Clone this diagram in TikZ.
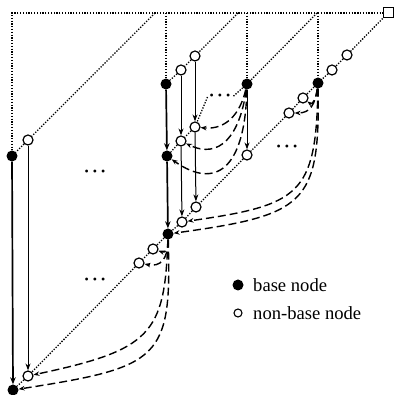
\documentclass[tikz,border=0pt]{standalone}
\usepackage{fontspec}
\setmainfont{Liberation Serif}
\usetikzlibrary{arrows.meta}
\tikzset{
 base/.style={circle,fill=black,inner sep=0pt,minimum size=11pt},
 nonbase/.style={circle,draw,fill=white,line width=1.2pt,inner sep=0pt,minimum size=10pt},
 dotline/.style={line width=1.3pt,dash pattern=on 1.3pt off 1.5pt},
 solidarr/.style={line width=1pt,-{Stealth[length=7pt,width=5pt]}},
 thickarr/.style={line width=1.7pt,-{Stealth[length=7pt,width=5.5pt]}},
 dasharr/.style={line width=1.4pt,dash pattern=on 8pt off 4pt,-{Stealth[length=6pt,width=4.5pt]}},
 ell/.style={inner sep=0pt,font=\fontsize{12}{14}\selectfont},
 legtext/.style={inner sep=0pt,anchor=base west,font=\fontsize{18.6}{22}\selectfont},
}
\newcommand{\threedots}{\textbullet\hspace{4pt}\textbullet\hspace{4pt}\textbullet}
\begin{document}
\begin{tikzpicture}[x=1pt,y=1pt]
\useasboundingbox (0,0) rectangle (394,395);
% top coordinates
\coordinate (TL) at (12,382);
\coordinate (T1) at (155,382);
\coordinate (T2) at (238,382);
\coordinate (T3) at (317,382);
\coordinate (V1) at (166,382);
\coordinate (V2) at (247,382);
\coordinate (V3) at (318,382);
\node[draw,fill=white,line width=1pt,minimum size=10pt,inner sep=0pt] (S) at (388,382) {};
% main diagonal
\node[nonbase] (o1) at (347,340) {};
\node[nonbase] (o2) at (332,325) {};
\node[base] (B3) at (318,312) {};
\node[nonbase] (o3) at (303,297) {};
\node[nonbase] (o4) at (289,282) {};
\node[nonbase] (o5) at (247,240) {};
\node[nonbase] (o6) at (196,188) {};
\node[nonbase] (o7) at (182,173) {};
\node[base] (B4) at (168,161) {};
\node[nonbase] (o8) at (153,146) {};
\node[nonbase] (o9) at (139,132) {};
\node[nonbase] (o10) at (28,19) {};
\node[base] (B5) at (13,5) {};
% other diagonals
\node[nonbase] (o11) at (28,255) {};
\node[base] (B1) at (12,239) {};
\node[nonbase] (o12) at (195,339) {};
\node[nonbase] (o13) at (181,325) {};
\node[base] (B2) at (166,311) {};
\node[base] (B6) at (247,311) {};
\node[nonbase] (o14) at (195,268) {};
\node[nonbase] (o15) at (181,254) {};
\node[base] (B7) at (167,239) {};
% ellipses
\node[ell] (d1) at (95,222) {\threedots};
\node[ell] (d2) at (220,298) {\threedots};
\node[ell] (d3) at (287,247) {\threedots};
\node[ell] (d4) at (95,114) {\threedots};
% dotted lines
\draw[dotline] (V3) -- (TL) -- (B1);
\draw[dotline] (V3) -- (S);
\draw[dotline] (V1) -- (B2);
\draw[dotline] (V2) -- (B6);
\draw[dotline] (V3) -- (B3);
\draw[dotline] (T1) -- (o11) -- (B1);
\draw[dotline] (T2) -- (o12) -- (o13) -- (B2);
\draw[dotline] (T3) -- (B6) -- ([xshift=2pt]d2.east);
\draw[dotline] ([xshift=-2pt]d2.west) -- (o14) -- (o15) -- (B7);
\draw[dotline] (S) -- (o1) -- (o2) -- (B3) -- (o3) -- (o4) -- (o5) -- (o6) -- (o7) -- (B4) -- (o8) -- (o9) -- (o10) -- (B5);
% vertical arrows
\draw[thickarr] (B1) -- (B5);
\draw[solidarr] (o11) -- (o10);
\draw[thickarr] (B2) -- (B7);
\draw[thickarr] (B7) -- (B4);
\draw[solidarr] (o13) -- (o15);
\draw[solidarr] (o15) -- (o7);
\draw[solidarr] (o12) -- (o14);
\draw[solidarr] (o14) -- (o6);
\draw[solidarr] (B6) -- (o5);
% dashed curves from B6
\draw[dasharr] (B6) .. controls (240,280) and (225,265) .. (o14);
\draw[dasharr] (B6) .. controls (240,260) and (220,235) .. (o15);
\draw[dasharr] (B6) .. controls (245,225) and (215,205) .. (B7);
% from B3
\draw[dasharr] (B3) .. controls (316,295) and (312,290) .. (o3);
\draw[dasharr] (B3) .. controls (315,290) and (310,282) .. (o4);
\draw[dasharr] (B3) .. controls (316,200) and (300,190) .. (o7);
\draw[dasharr] (B3) .. controls (320,190) and (305,180) .. (B4);
% from B4
\draw[dasharr] (B4) .. controls (169,145) and (165,142) .. (o8);
\draw[dasharr] (B4) .. controls (168,135) and (160,128) .. (o9);
\draw[dasharr] (B4) .. controls (165,60) and (150,45) .. (o10);
\draw[dasharr] (B4) .. controls (172,35) and (160,28) .. (B5);
% legend
\node[base] (lb) at (238,110) {};
\node[circle,draw,line width=1.1pt,inner sep=0pt,minimum size=8pt] (lnb) at (238,82) {};
\node[legtext] (tb) at (253,103) {base node};
\node[legtext] (tnb) at (253,75) {non-base node};
\end{tikzpicture}
\end{document}
